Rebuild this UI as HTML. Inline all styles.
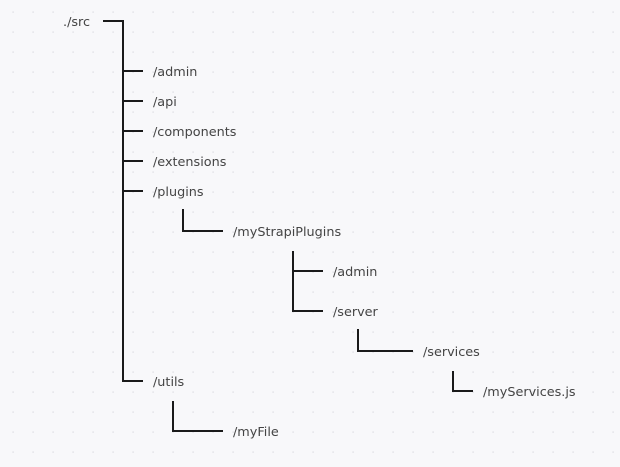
<!DOCTYPE html>
<html><head><style>
html,body{margin:0;padding:0;background:#f8f8fa;}
svg{display:block;}
text{font-family:"DejaVu Sans","Liberation Sans",sans-serif;font-size:12.8px;fill:#444;}
</style></head><body>
<svg width="620" height="467" viewBox="0 0 620 467" xmlns="http://www.w3.org/2000/svg">
<defs><pattern id="d" x="3" y="2" width="20" height="20" patternUnits="userSpaceOnUse"><rect x="9.5" y="9.5" width="1.2" height="1.2" fill="#d6d6dc"/></pattern></defs>
<rect width="620" height="467" fill="#f8f8fa"/>
<rect width="620" height="467" fill="url(#d)"/>
<g stroke="#1a1a1a" stroke-width="2" fill="none">
<polyline points="103,21 123,21 123,382"/>
<line x1="123" y1="71" x2="143" y2="71"/>
<line x1="123" y1="101" x2="143" y2="101"/>
<line x1="123" y1="131" x2="143" y2="131"/>
<line x1="123" y1="161" x2="143" y2="161"/>
<line x1="123" y1="191" x2="143" y2="191"/>
<line x1="122" y1="381" x2="143" y2="381"/>
<polyline points="183,209 183,231 223,231"/>
<polyline points="293,251 293,311 323,311"/>
<line x1="293" y1="271" x2="323" y2="271"/>
<polyline points="358,329 358,351 413,351"/>
<polyline points="453,371 453,391 473,391"/>
<polyline points="173,401 173,431 223,431"/>
</g>
<text x="63" y="26">./src</text>
<text x="153" y="76">/admin</text>
<text x="153" y="106">/api</text>
<text x="153" y="136">/components</text>
<text x="153" y="166">/extensions</text>
<text x="153" y="196">/plugins</text>
<text x="233" y="236">/myStrapiPlugins</text>
<text x="333" y="276">/admin</text>
<text x="333" y="316">/server</text>
<text x="423" y="356">/services</text>
<text x="483" y="396">/myServices.js</text>
<text x="153" y="386">/utils</text>
<text x="233" y="436">/myFile</text>
</svg>
</body></html>
